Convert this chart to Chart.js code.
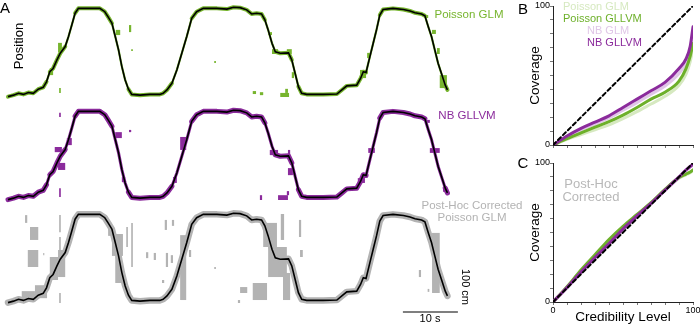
<!DOCTYPE html>
<html>
<head>
<meta charset="utf-8">
<script src="https://cdn.jsdelivr.net/npm/chart.js@4.4.0/dist/chart.umd.min.js"></script>
<style>
body { margin: 0; width: 700px; height: 324px; overflow: hidden; background: #fff; position: relative;
       font-family: "Liberation Sans", Arial, sans-serif; }
canvas { position: absolute; }
.lbl { position: absolute; white-space: nowrap; line-height: 1; transform: translate(-50%, -50%); }
.left { position: absolute; white-space: nowrap; line-height: 1; transform: translate(0, -50%); }
.rot { transform: translate(-50%, -50%) rotate(-90deg); }
.rotcw { transform: translate(-50%, -50%) rotate(90deg); }
</style>
</head>
<body>

<canvas id="trace_glm" width="470" height="105" style="left:0;top:0"></canvas>
<canvas id="trace_nb" width="470" height="105" style="left:0;top:103px"></canvas>
<canvas id="trace_corr" width="470" height="118" style="left:0;top:206px"></canvas>
<canvas id="coverage_raw" width="192" height="151" style="left:510px;top:0"></canvas>
<canvas id="coverage_corr" width="192" height="170" style="left:510px;top:155px"></canvas>

<div class="lbl" style="left:5px;top:7px;font-size:15px">A</div>
<div class="lbl rot" style="left:18px;top:46px;font-size:13px">Position</div>
<div class="lbl" style="left:469px;top:15px;font-size:11.5px;color:#77b52e">Poisson GLM</div>
<div class="lbl" style="left:467px;top:116px;font-size:11.5px;color:#8b2b9c">NB GLLVM</div>
<div class="lbl" style="left:472px;top:206px;font-size:11.5px;color:#b3b3b3">Post-Hoc Corrected</div>
<div class="lbl" style="left:472px;top:218px;font-size:11.5px;color:#b3b3b3">Poisson GLM</div>
<div class="lbl" style="left:430px;top:318px;font-size:11px">10 s</div>
<div class="lbl rotcw" style="left:465px;top:287px;font-size:11px">100 cm</div>

<div class="lbl" style="left:523px;top:8px;font-size:15px">B</div>
<div class="left" style="left:563px;top:6px;font-size:11px;color:#d6e9c0">Poisson GLM</div>
<div class="left" style="left:563px;top:18px;font-size:11px;color:#6db02a">Poisson GLLVM</div>
<div class="left" style="left:587px;top:30px;font-size:11px;color:#e0c7e7">NB GLM</div>
<div class="left" style="left:587px;top:42px;font-size:11px;color:#8b2b9c">NB GLLVM</div>

<div class="lbl" style="left:523px;top:162px;font-size:15px">C</div>
<div class="lbl" style="left:591px;top:183px;font-size:13px;color:#b8b8b8">Post-Hoc</div>
<div class="lbl" style="left:591px;top:196px;font-size:13px;color:#b8b8b8">Corrected</div>

<script>
// true animal position (cm) over time (s)
const timeSec = [0, 1.0, 1.9, 2.8, 3.7, 4.6, 5.5, 6.4, 7.0, 7.6, 8.2, 8.9, 9.5, 10.4, 11.0, 11.6, 12.2, 12.8, 14.3, 16.7,
    17.6, 18.2, 18.9, 19.5, 20.1, 20.7, 21.3, 21.9, 22.5, 24.0, 25.8, 27.6, 28.2, 28.9, 29.8, 30.7, 31.6, 32.5, 33.4, 34.3,
    35.5, 38.0, 39.8, 41.0, 42.2, 43.4, 44.3, 45.2, 46.1, 46.7, 47.3, 48.0, 48.6, 49.5, 51.0, 51.6, 52.2, 52.8, 53.4, 54.3,
    57.3, 59.8, 60.7, 61.6, 63.4, 64.1, 64.6, 65.1, 65.8, 66.4, 67.0, 67.6, 68.2, 70.0, 71.9, 73.1, 74.0, 75.2, 75.8, 76.4,
    77.0, 77.6, 78.2, 78.9, 79.5, 79.9];
const truePosCm = [1, 5, 10, 7, 12, 10, 21, 26, 41, 68, 77, 100, 118, 136, 163, 194, 226, 239, 239, 239,
    230, 216, 199, 163, 127, 82, 46, 21, 7, 5, 7, 7, 10, 19, 37, 73, 118, 163, 212, 230,
    239, 239, 237, 242, 241, 235, 224, 226, 224, 208, 181, 145, 122, 118, 119, 100, 64, 28, 10, 7,
    7, 8, 19, 30, 32, 50, 68, 66, 109, 145, 181, 221, 236, 239, 236, 232, 227, 224, 219, 190,
    163, 127, 91, 59, 32, 19];

// decoded posterior patches away from the path: [start s, end s, low cm, high cm]
const poissonGlmPatches = [
    [9.1, 9.8, 121, 146], [22.0, 22.4, 175, 194], [19.6, 20.4, 167, 181], [22.4, 22.7, 124, 129],
    [9.3, 9.6, 11, 24], [37.5, 37.8, 92, 97], [44.5, 45.1, 8, 16], [45.8, 46.4, 5, 13],
    [49.5, 51.1, 0, 11], [50.4, 50.9, 11, 22], [48.0, 49.1, 116, 129], [50.7, 51.6, 116, 129],
    [51.6, 52.0, 51, 67], [64.0, 65.1, 51, 73], [77.1, 77.8, 170, 181], [78.0, 78.5, 116, 132],
    [78.5, 79.8, 24, 59], [7.6, 8.2, 59, 78], [47.3, 48.0, 167, 175], [65.3, 65.8, 105, 119],
    [75.8, 76.4, 213, 221]
];
const nbGllvmPatches = [
    [9.3, 9.6, 224, 235], [9.1, 10.4, 81, 100], [8.5, 9.8, 129, 143], [10.7, 11.6, 148, 167],
    [9.3, 9.6, 8, 32], [19.5, 20.7, 167, 183], [22.0, 22.4, 183, 189], [20.7, 21.3, 48, 62],
    [31.3, 32.4, 135, 170], [30.0, 30.7, 46, 62], [45.8, 46.2, 0, 13], [49.1, 50.9, -5, 13],
    [50.7, 51.1, 13, 24], [47.6, 49.1, 121, 135], [50.9, 51.3, 119, 135], [50.9, 51.8, 67, 86],
    [65.5, 66.7, 127, 140], [76.7, 78.5, 127, 140], [76.2, 76.7, 208, 216], [79.1, 79.8, 22, 35],
    [63.6, 64.9, 46, 59]
];
const correctedPatches = [
    [3.1, 3.5, 216, 237], [4.0, 5.5, 170, 205], [3.6, 5.5, 97, 143], [6.4, 6.6, 129, 135],
    [9.3, 9.6, 191, 237], [9.3, 9.6, 116, 178], [9.1, 10.4, 70, 143], [9.3, 9.6, 0, 27],
    [7.6, 9.1, 62, 124], [2.5, 4.9, 8, 32], [4.9, 7.1, 13, 48], [18.2, 18.9, 181, 216],
    [18.9, 20.9, 127, 186], [19.5, 20.7, 54, 127], [21.5, 21.8, 151, 205], [22.4, 22.7, 97, 216],
    [25.1, 25.5, 121, 137], [26.5, 26.9, 116, 135], [28.5, 28.9, 197, 224], [29.8, 30.2, 208, 224],
    [28.7, 29.1, 97, 135], [29.6, 30.0, 108, 129], [28.0, 28.4, 54, 62], [31.3, 32.4, 8, 183],
    [32.9, 33.3, 124, 143], [37.5, 37.8, 92, 97], [41.8, 42.2, 0, 8], [46.4, 48.9, 151, 216],
    [47.3, 50.7, 70, 151], [44.5, 47.1, 8, 54], [49.6, 50.2, 170, 243], [50.0, 51.3, 8, 81],
    [52.9, 53.3, 178, 224], [53.1, 53.6, 124, 143], [42.2, 43.5, 27, 43], [77.1, 78.5, 27, 189],
    [74.7, 75.1, 70, 89], [76.3, 76.6, 30, 38]
];

// coverage vs credibility level (%)
const credLevel = [0, 10, 20, 30, 40, 50, 60, 70, 80, 90, 95, 98, 100];
const poisGlmCov = [0, 4, 7.5, 11, 14.5, 19, 24, 29.5, 35, 43, 51, 60, 70];
const poisGllvmCov = [0, 4.5, 8.7, 12.8, 16.8, 21.5, 27, 33, 38, 46, 55, 64, 73];
const nbGlmCov = [0, 5.5, 10.8, 15, 19.5, 25, 30.5, 36.5, 42.5, 51.5, 59, 67, 78];
const nbGllvmCov = [0, 6.5, 12, 16.5, 21, 27, 33, 39, 45, 55, 62, 71, 85];
const poisGlmCorr = [0, 10.5, 22, 33, 44, 53.5, 62, 71, 80.5, 89, 91.5, 93, 94.5];
const poisGllvmCorr = [0, 11, 23, 34, 45, 54.5, 63, 71.5, 81, 89.5, 92, 93.5, 95];
const nbGlmCorr = [0, 10, 21, 31.5, 41.5, 52, 61.5, 70.5, 80, 89.5, 94.5, 97, 98.5];
const nbGllvmCorr = [0, 10.5, 21.5, 32, 42, 52.5, 62, 71, 80.5, 90, 95, 97.5, 99];

const scaleBarSec = 10;
const scaleBarCm = 100;

const FONT = "'Liberation Sans', Arial, sans-serif";
const GREEN = "#77b52e", PURPLE = "#8b2b9c", GREY = "#b3b3b3";

function xy(xs, ys) {
    return xs.map((x, i) => ({ x: x, y: ys[i] }));
}

function patchShapes(patches) {
    const pts = [];
    patches.forEach(([t0, t1, lo, hi]) => {
        pts.push({ x: t0, y: lo }, { x: t1, y: lo }, { x: t1, y: hi }, { x: t0, y: hi }, { x: t0, y: null });
    });
    return pts;
}

// posterior band hugging the path, thinner where the animal runs fast
function bandWidthFor(flat, steep) {
    return ctx => {
        const dx = Math.abs(ctx.p1.x - ctx.p0.x), dy = Math.abs(ctx.p1.y - ctx.p0.y);
        return dy > 2.5 * dx ? steep : flat;
    };
}

function traceChart(id, patches, colour, flatWidth, steepWidth, padBottom, extra) {
    const datasets = [
        { data: xy(timeSec, truePosCm), borderColor: "#000", borderWidth: 1.6, clip: 10 },
        { data: xy(timeSec, truePosCm), borderColor: colour, borderWidth: flatWidth,
          segment: { borderWidth: bandWidthFor(flatWidth, steepWidth) },
          borderJoinStyle: "round", borderCapStyle: "round", clip: 10 },
        { data: patchShapes(patches), borderWidth: 0, backgroundColor: colour, fill: "shape",
          spanGaps: false, clip: 10 }
    ];
    if (extra) datasets.push(extra);
    return new Chart(id, {
        type: "line",
        data: { datasets: datasets },
        options: {
            responsive: false,
            animation: false,
            layout: { padding: { left: 8, right: 22, top: 8, bottom: padBottom } },
            elements: { point: { radius: 0 }, line: { tension: 0 } },
            plugins: { legend: { display: false }, tooltip: { enabled: false } },
            scales: {
                x: { type: "linear", min: 0, max: 80, display: false },
                y: { type: "linear", min: 0, max: 240, display: false }
            }
        }
    });
}

traceChart("trace_glm", poissonGlmPatches, GREEN, 4, 2.2, 8);
traceChart("trace_nb", nbGllvmPatches, PURPLE, 5, 3, 8);

// scale bar: corner sits below the last sample of the bottom trace
const barEndSec = 81.8, barBaseCm = -24.3;
traceChart("trace_corr", correctedPatches, GREY, 6.5, 6.5, 21, {
    data: [
        { x: barEndSec - scaleBarSec, y: barBaseCm },
        { x: barEndSec, y: barBaseCm },
        { x: barEndSec, y: barBaseCm + scaleBarCm }
    ],
    borderColor: "#000", borderWidth: 1.2, clip: false
});

function coverageChart(id, series, showXLabels, padTop) {
    const tickFont = { family: FONT, size: 9 };
    const edgeOnly = v => (v === 0 || v === 100) ? String(v) : "";
    return new Chart(id, {
        type: "line",
        data: {
            datasets: [
                { data: [{ x: 0, y: 0 }, { x: 100, y: 100 }], borderColor: "#000", borderWidth: 2, borderDash: [4, 3] },
                { data: xy(credLevel, series[3]), borderColor: PURPLE, borderWidth: 3 },
                { data: xy(credLevel, series[1]), borderColor: "#6db02a", borderWidth: 3 },
                { data: xy(credLevel, series[2]), borderColor: "#e0c7e7", borderWidth: 3 },
                { data: xy(credLevel, series[0]), borderColor: "#d6e9c0", borderWidth: 3 }
            ]
        },
        options: {
            responsive: false,
            animation: false,
            layout: { padding: { left: 17, right: 9, top: padTop, bottom: showXLabels ? 0 : 2 } },
            elements: { point: { radius: 0 }, line: { cubicInterpolationMode: "monotone", borderCapStyle: "round" } },
            plugins: { legend: { display: false }, tooltip: { enabled: false } },
            scales: {
                x: {
                    type: "linear", min: 0, max: 100,
                    ticks: { stepSize: 10, autoSkip: false, maxRotation: 0, padding: 0, font: tickFont, color: "#000",
                             callback: showXLabels ? edgeOnly : () => "" },
                    grid: { drawOnChartArea: false, tickLength: 3, color: "#777" },
                    border: { color: "#222" },
                    title: { display: showXLabels, text: "Credibility Level", color: "#000",
                             font: { family: FONT, size: 13.5 }, padding: 0 },
                    afterFit: s => { s.height = showXLabels ? 23 : 4; }
                },
                y: {
                    type: "linear", min: 0, max: 100,
                    ticks: { stepSize: 10, autoSkip: false, padding: 0, font: tickFont, color: "#000", callback: edgeOnly },
                    grid: { drawOnChartArea: false, tickLength: 3, color: "#777" },
                    border: { color: "#222" },
                    title: { display: true, text: "Coverage", color: "#000",
                             font: { family: FONT, size: 13.5 }, padding: 0 },
                    afterFit: s => { s.width = 26; }
                }
            }
        }
    });
}

coverageChart("coverage_raw", [poisGlmCov, poisGllvmCov, nbGlmCov, nbGllvmCov], false, 6);
coverageChart("coverage_corr", [poisGlmCorr, poisGllvmCorr, nbGlmCorr, nbGllvmCorr], true, 8);
</script>
</body>
</html>
